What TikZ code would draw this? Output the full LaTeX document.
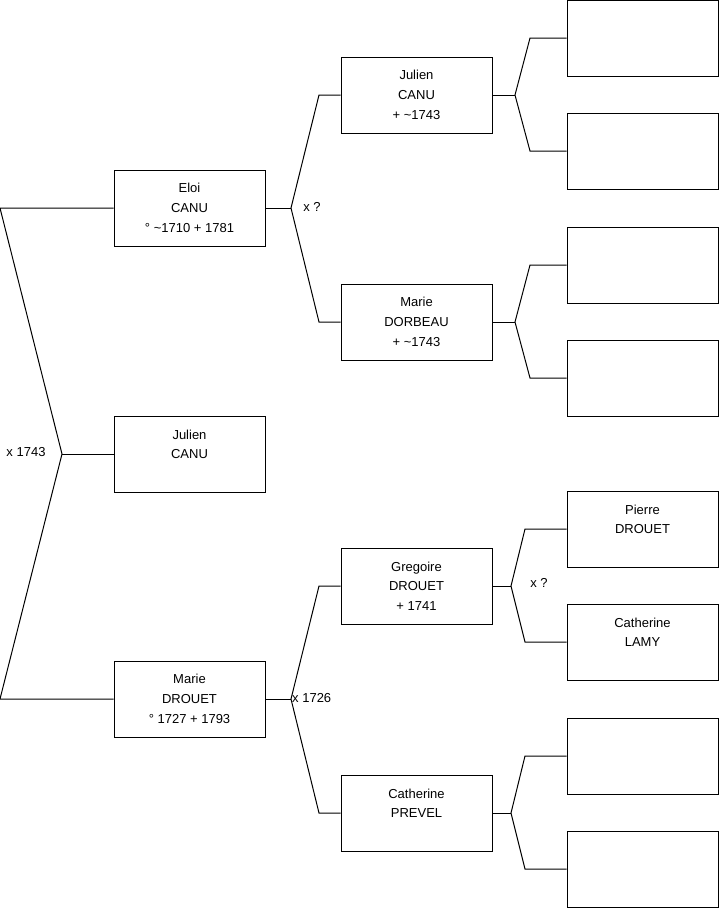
\documentclass[tikz,border=0pt]{standalone}
\usepackage{fontspec}
\setmainfont{Liberation Sans}
\usepackage{tikz}
\newcommand{\boxwd}{151pt}
\newcommand{\boxht}{76pt}
\tikzset{person/.style={rectangle, draw, line width=1pt, fill=white, inner sep=0pt, minimum width=\boxwd, minimum height=\boxht, align=center, font=\fontsize{13}{19.7}\selectfont}}
\tikzset{marr/.style={draw=none, fill=none, inner sep=0pt, font=\fontsize{13}{15}\selectfont}}
\tikzset{link/.style={line width=1pt, line join=miter}}

\begin{document}
\begin{tikzpicture}[x=1pt,y=-1pt]
\useasboundingbox (0,0) rectangle (719,908);

\node[person] (1) at (189.5,454) {Julien\\CANU\\\mbox{}};
\node[person] (2) at (189.5,208) {Eloi\\CANU\\° \textasciitilde1710 + 1781};
\node[person] (3) at (189.5,699) {Marie\\DROUET\\° 1727 + 1793};

\node[person] (4) at (416.5,95) {Julien\\CANU\\+ \textasciitilde1743};
\node[person] (5) at (416.5,322) {Marie\\DORBEAU\\+ \textasciitilde1743};
\node[person] (6) at (416.5,586) {Gregoire\\DROUET\\+ 1741};
\node[person] (7) at (416.5,813) {Catherine\\PREVEL\\\mbox{}};

\node[person] (8) at (642.5,38) {};
\node[person] (9) at (642.5,151) {};
\node[person] (10) at (642.5,265) {};
\node[person] (11) at (642.5,378) {};
\node[person] (12) at (642.5,529) {Pierre\\DROUET\\\mbox{}};
\node[person] (13) at (642.5,642) {Catherine\\LAMY\\\mbox{}};
\node[person] (14) at (642.5,756) {};
\node[person] (15) at (642.5,869) {};

% parents of 1
\coordinate (r2) at (0,208);
\coordinate (r1) at (62,454);
\coordinate (r3) at (0,699);
\draw[link] (2.west) -- (r2) -- (r1) -- (r3) -- (3.west);
\draw[link] (r1) -- (1.west);
\node[marr] (m1) at (26,452) {x 1743};

% parents of 2
\coordinate (f2) at (291,208);
\coordinate (b4) at (319,95);
\coordinate (b5) at (319,322);
\draw[link] (2.east) -- (f2);
\draw[link] (4.west) -- (b4) -- (f2) -- (b5) -- (5.west);
\node[marr] (m2) at (312,207) {x ?};

% parents of 3
\coordinate (f3) at (291,699);
\coordinate (b6) at (319,586);
\coordinate (b7) at (319,813);
\draw[link] (3.east) -- (f3);
\draw[link] (6.west) -- (b6) -- (f3) -- (b7) -- (7.west);
\node[marr, anchor=west] (m3) at (292,698) {x 1726};

% parents of 4 and 5
\coordinate (f4) at (515,95);
\coordinate (b8) at (530,38);
\coordinate (b9) at (530,151);
\draw[link] (4.east) -- (f4);
\draw[link] (8.west) -- (b8) -- (f4) -- (b9) -- (9.west);

\coordinate (f5) at (515,322);
\coordinate (b10) at (530,265);
\coordinate (b11) at (530,378);
\draw[link] (5.east) -- (f5);
\draw[link] (10.west) -- (b10) -- (f5) -- (b11) -- (11.west);

% parents of 6 and 7
\coordinate (f6) at (511,586);
\coordinate (b12) at (525,529);
\coordinate (b13) at (525,642);
\draw[link] (6.east) -- (f6);
\draw[link] (12.west) -- (b12) -- (f6) -- (b13) -- (13.west);
\node[marr] (m6) at (539,583) {x ?};

\coordinate (f7) at (511,813);
\coordinate (b14) at (525,756);
\coordinate (b15) at (525,869);
\draw[link] (7.east) -- (f7);
\draw[link] (14.west) -- (b14) -- (f7) -- (b15) -- (15.west);

\end{tikzpicture}
\end{document}
